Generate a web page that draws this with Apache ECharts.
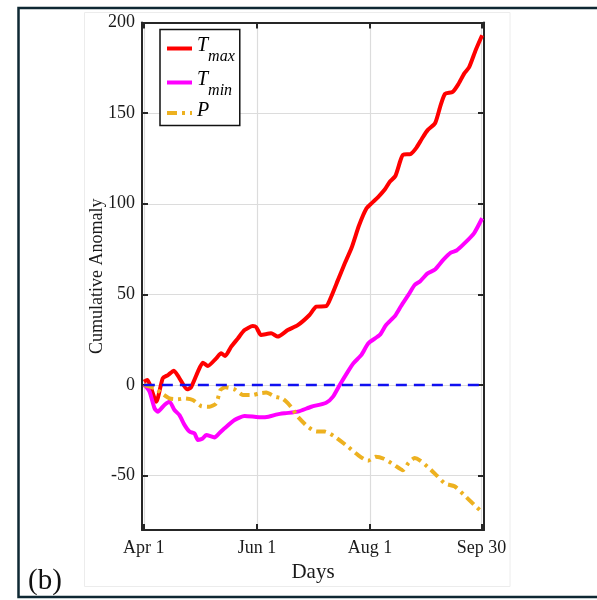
<!DOCTYPE html>
<html>
<head>
<meta charset="utf-8">
<script src="https://cdn.jsdelivr.net/npm/echarts@6/dist/echarts.min.js"></script>
<style>
    html, body { margin: 0; padding: 0; background: #fff; }
    #main { width: 597px; height: 600px; }
</style>
</head>
<body>
<div id="main"></div>
<script>
"use strict";

// x ticks: days since Apr 1
const xTickDays = [0, 61, 122, 182];
const xTickLabels = ['Apr 1', 'Jun 1', 'Aug 1', 'Sep 30'];
const yTicks = [-50, 0, 50, 100, 150, 200];

// cumulative Tmax anomaly
const tmaxDays = [0, 1.8, 6.7, 10.2, 13, 16.2, 19.2, 23.3, 25.4, 29.1, 31.8, 34.5, 39, 41.7, 43.8, 47, 50.7, 54.3, 58.7, 60.5,
    63.2, 68.6, 72.2, 77.6, 83, 89.3, 93, 98.3, 101, 104.7, 108.3, 112, 116, 120, 123, 126.3, 130, 132.5, 135.6, 138.3,
    139.7, 143.9, 147, 150, 153, 157, 160, 162.4, 166.5, 169.6, 172.7, 175.4, 179, 182.4];
const tmaxVals = [1.8, 2.8, -9.2, 3.7, 5.5, 7.9, 3.7, -2.4, -1.3, 7.3, 12.3, 10.5, 14.7, 17.5, 16, 21, 25.7, 30.3, 32.5, 32,
    27.6, 28.5, 26.7, 30.3, 33, 38.6, 43.2, 43.5, 48.7, 58, 67, 75.7, 88, 97.4, 100.5, 103.7, 108, 112, 115.3, 123.7,
    127, 127.5, 131, 136, 140.6, 144.4, 154.3, 160.6, 161.7, 166, 171.8, 175.4, 185, 193];

// cumulative Tmin anomaly
const tminDays = [0, 1.5, 3.1, 5.8, 7.5, 11.1, 13.8, 16.5, 19.2, 21.9, 24.6, 27.3, 29.1, 31.5, 33.6, 38.1, 40.8, 43.5, 48.9,
    54.3, 59.6, 63, 67.2, 72, 76, 83, 90.3, 98.3, 102, 105.6, 110, 113, 117.3, 121, 127.2, 130.5, 135.6, 138.7, 142.8,
    146, 149, 153, 157, 161.4, 165.5, 168.6, 172.7, 178, 182.4];
const tminVals = [0, -1.3, -3.7, -12.9, -14.7, -11, -9.2, -13.8, -16.6, -22, -25.7, -26.7, -30.3, -29.7, -27.6, -28.9, -26.5,
    -23.9, -19.3, -17.1, -17.5, -17.8, -17.5, -16.2, -15.6, -14.7, -12, -9.8, -6.4, 0, 7.4, 12, 16.6, 23, 27.6, 33,
    38.4, 43.6, 50, 55.2, 57.3, 61.6, 63.7, 69, 73, 74.2, 78, 83.7, 92];

// cumulative precipitation anomaly
const pDays = [0, 5.8, 10.2, 13.8, 18.3, 21.9, 26.4, 30.9, 35.4, 39, 41.3, 43.8, 48.9, 53.4, 58.7, 62.3, 66, 70.6, 74.8,
    77.6, 80, 83, 88.4, 93, 97.5, 102.9, 110, 115.4, 120.8, 125, 129.4, 134.6, 139.7, 142.8, 146, 149, 154, 158, 162.4,
    167.5, 172.7, 178, 182.4];
const pVals = [0, -1.8, -5, -7.4, -7.9, -7.4, -8.3, -11.6, -12, -10.1, -2.8, -1.3, -2.4, -5.5, -5.5, -4.6, -4.2, -6.4, -7.5,
    -10, -13, -17.5, -23, -25.7, -25.7, -28.5, -34, -38.6, -41.8, -39.6, -40.7, -43.8, -47, -42.8, -40.3, -41.7, -46,
    -50, -54.4, -55.9, -60.7, -66, -70.2];

// zero reference line
const zeroDays = [0, 183];
const zeroVals = [0, 0];

const pairs = (xs, ys) => xs.map((x, i) => [x, ys[i]]);

const serif = '"Liberation Serif", "Times New Roman", serif';
const axisColor = '#262626';
const gridColor = '#dcdcdc';
const textColor = '#1a1a1a';

const chart = echarts.init(document.getElementById('main'));

const boxAxis = {
    axisLine: { show: true, onZero: false, lineStyle: { color: axisColor, width: 2 } },
    axisTick: { show: true, inside: true, length: 6, lineStyle: { color: axisColor, width: 2 } }
};

const option = {
    animation: false,
    backgroundColor: '#fff',
    grid: { left: 142, right: 113, top: 22.5, bottom: 70, containLabel: false, outerBoundsMode: 'none' },
    legend: {
        data: ['Tmax', 'Tmin', 'P'],
        orient: 'vertical',
        left: 160,
        top: 29.5,
        padding: [3, 5, 0, 5],
        itemWidth: 25,
        itemHeight: 12,
        itemGap: 2,
        selectedMode: false,
        backgroundColor: '#fff',
        borderColor: '#111',
        borderWidth: 1.5,
        itemStyle: { opacity: 0 },
        lineStyle: { width: 4 },
        formatter: name => {
            if (name === 'Tmax') return '{t|T}{s|max}';
            if (name === 'Tmin') return '{t|T}{s|min}';
            return '{p|P}';
        },
        textStyle: {
            fontFamily: serif,
            fontStyle: 'italic',
            color: '#000',
            rich: {
                t: { fontFamily: serif, fontStyle: 'italic', fontSize: 20, color: '#000', lineHeight: 32, padding: [3, 0, 0, 0], verticalAlign: 'top' },
                s: { fontFamily: serif, fontStyle: 'italic', fontSize: 16, color: '#000', lineHeight: 32, padding: [16, 0, 0, 0], verticalAlign: 'top' },
                p: { fontFamily: serif, fontStyle: 'italic', fontSize: 20, color: '#000', lineHeight: 25, padding: [0, 0, 5, 0], verticalAlign: 'top' }
            }
        }
    },
    xAxis: [{
        type: 'value',
        position: 'bottom',
        min: -1,
        max: 183.4,
        ...boxAxis,
        axisTick: { ...boxAxis.axisTick, customValues: xTickDays },
        axisLabel: {
            customValues: xTickDays,
            formatter: v => xTickLabels[xTickDays.indexOf(v)] || '',
            fontFamily: serif,
            fontSize: 18,
            color: textColor,
            margin: 9
        },
        splitLine: { show: true, lineStyle: { color: gridColor, width: 1.2 } },
        name: 'Days',
        nameLocation: 'middle',
        nameGap: 32,
        nameMoveOverlap: false,
        nameTextStyle: { fontFamily: serif, fontSize: 21, color: textColor }
    }, {
        type: 'value',
        position: 'top',
        min: -1,
        max: 183.4,
        ...boxAxis,
        axisTick: { ...boxAxis.axisTick, customValues: xTickDays },
        axisLabel: { show: false },
        splitLine: { show: false }
    }],
    yAxis: [{
        type: 'value',
        position: 'left',
        min: -80,
        max: 200,
        ...boxAxis,
        axisTick: { ...boxAxis.axisTick, customValues: yTicks },
        axisLabel: {
            customValues: yTicks,
            fontFamily: serif,
            fontSize: 18,
            color: textColor,
            margin: 7
        },
        splitLine: { show: true, lineStyle: { color: gridColor, width: 1.2 } },
        name: 'Cumulative Anomaly',
        nameLocation: 'middle',
        nameGap: 36,
        nameMoveOverlap: false,
        nameTextStyle: { fontFamily: serif, fontSize: 18, color: textColor }
    }, {
        type: 'value',
        position: 'right',
        min: -80,
        max: 200,
        ...boxAxis,
        axisTick: { ...boxAxis.axisTick, customValues: yTicks },
        axisLabel: { show: false },
        splitLine: { show: false }
    }],
    series: [{
        name: 'Tmax',
        type: 'line',
        symbol: 'none',
        smooth: 0.2,
        data: pairs(tmaxDays, tmaxVals),
        lineStyle: { color: '#ff0000', width: 4 },
        itemStyle: { color: '#ff0000' },
        z: 3
    }, {
        name: 'Tmin',
        type: 'line',
        symbol: 'none',
        smooth: 0.2,
        data: pairs(tminDays, tminVals),
        lineStyle: { color: '#ff00ff', width: 4 },
        itemStyle: { color: '#ff00ff' },
        z: 3
    }, {
        name: 'P',
        type: 'line',
        symbol: 'none',
        smooth: 0.2,
        data: pairs(pDays, pVals),
        lineStyle: { color: '#edb120', width: 4, type: [10, 5, 3, 5] },
        itemStyle: { color: '#edb120' },
        z: 3
    }, {
        name: 'zero',
        type: 'line',
        symbol: 'none',
        data: pairs(zeroDays, zeroVals),
        lineStyle: { color: '#1010f0', width: 2.5, type: [11, 7] },
        z: 4
    }],
    graphic: [{
        type: 'rect',
        silent: true,
        z: -1,
        shape: { x: 84.5, y: 12.5, width: 425.5, height: 574 },
        style: { fill: 'none', stroke: '#ececec', lineWidth: 1 }
    }, {
        type: 'rect',
        silent: true,
        shape: { x: 18.5, y: 8, width: 640, height: 589 },
        style: { fill: 'none', stroke: '#0e2833', lineWidth: 2.5 }
    }, {
        type: 'text',
        left: 28,
        top: 567,
        style: { text: '(b)', font: '29px "Liberation Serif", serif', fill: '#111' }
    }]
};

chart.setOption(option);
</script>
</body>
</html>
